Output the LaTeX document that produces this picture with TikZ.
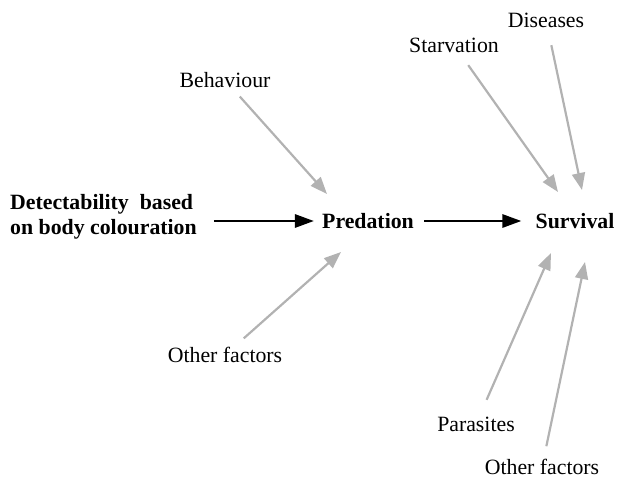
\documentclass[tikz,border=0pt]{standalone}
\usepackage{fontspec}
\setmainfont{Liberation Serif}
\usepackage{tikz}
\usetikzlibrary{arrows.meta,positioning}

\begin{document}
\begin{tikzpicture}[x=1pt, y=-1pt, >=Triangle,
  every node/.style={font=\fontsize{21.8}{25}\selectfont, inner sep=2pt},
  factor/.style={},
  stage/.style={font=\fontsize{21.8}{25}\selectfont\bfseries},
  mainarrow/.style={->, line width=2.8pt, black, >={Triangle[length=19pt, width=13pt]}},
  sidearrow/.style={->, line width=2.2pt, black!30, >={Triangle[length=17pt, width=13pt]}}]
\useasboundingbox (0,0) rectangle (618,479);
% main chain
\node[stage, align=left, anchor=west] (det) at (8,217) {Detectability\ \ based\\on body colouration};
\node[stage] (pred) at (368,221) {Predation};
\node[stage] (surv) at (575,221) {Survival};
\path (pred.east) ++(8,0) coordinate (p1) (surv.west) ++(-12,0) coordinate (s1);
\path (det.east |- pred) ++(15,0) coordinate (d1) (pred.west) ++(-6,0) coordinate (p0);
\draw[mainarrow] (d1) -- (p0);
\draw[mainarrow] (p1) -- (s1);
% factors
\node[factor] (beh) at (225,80) {Behaviour};
\node[factor] (oth1) at (225,355) {Other factors};
\node[factor] (starv) at (454,45) {Starvation};
\node[factor] (dis) at (546,20) {Diseases};
\node[factor] (para) at (476,424) {Parasites};
\node[factor] (oth2) at (542,467) {Other factors};
\coordinate (pred-nw) at (327,194);
\coordinate (pred-sw) at (341,252);
\coordinate (surv-n1) at (558,192);
\coordinate (surv-n2) at (582,190);
\coordinate (surv-s1) at (551,253);
\coordinate (surv-s2) at (585,262);
\draw[sidearrow, shorten <=9pt] (beh) -- (pred-nw);
\draw[sidearrow, shorten <=10pt] (oth1) -- (pred-sw);
\draw[sidearrow, shorten <=13pt] (starv) -- (surv-n1);
\draw[sidearrow, shorten <=16pt] (dis) -- (surv-n2);
\draw[sidearrow, shorten <=16pt] (para) -- (surv-s1);
\draw[sidearrow, shorten <=11pt] (oth2) -- (surv-s2);
\end{tikzpicture}
\end{document}
